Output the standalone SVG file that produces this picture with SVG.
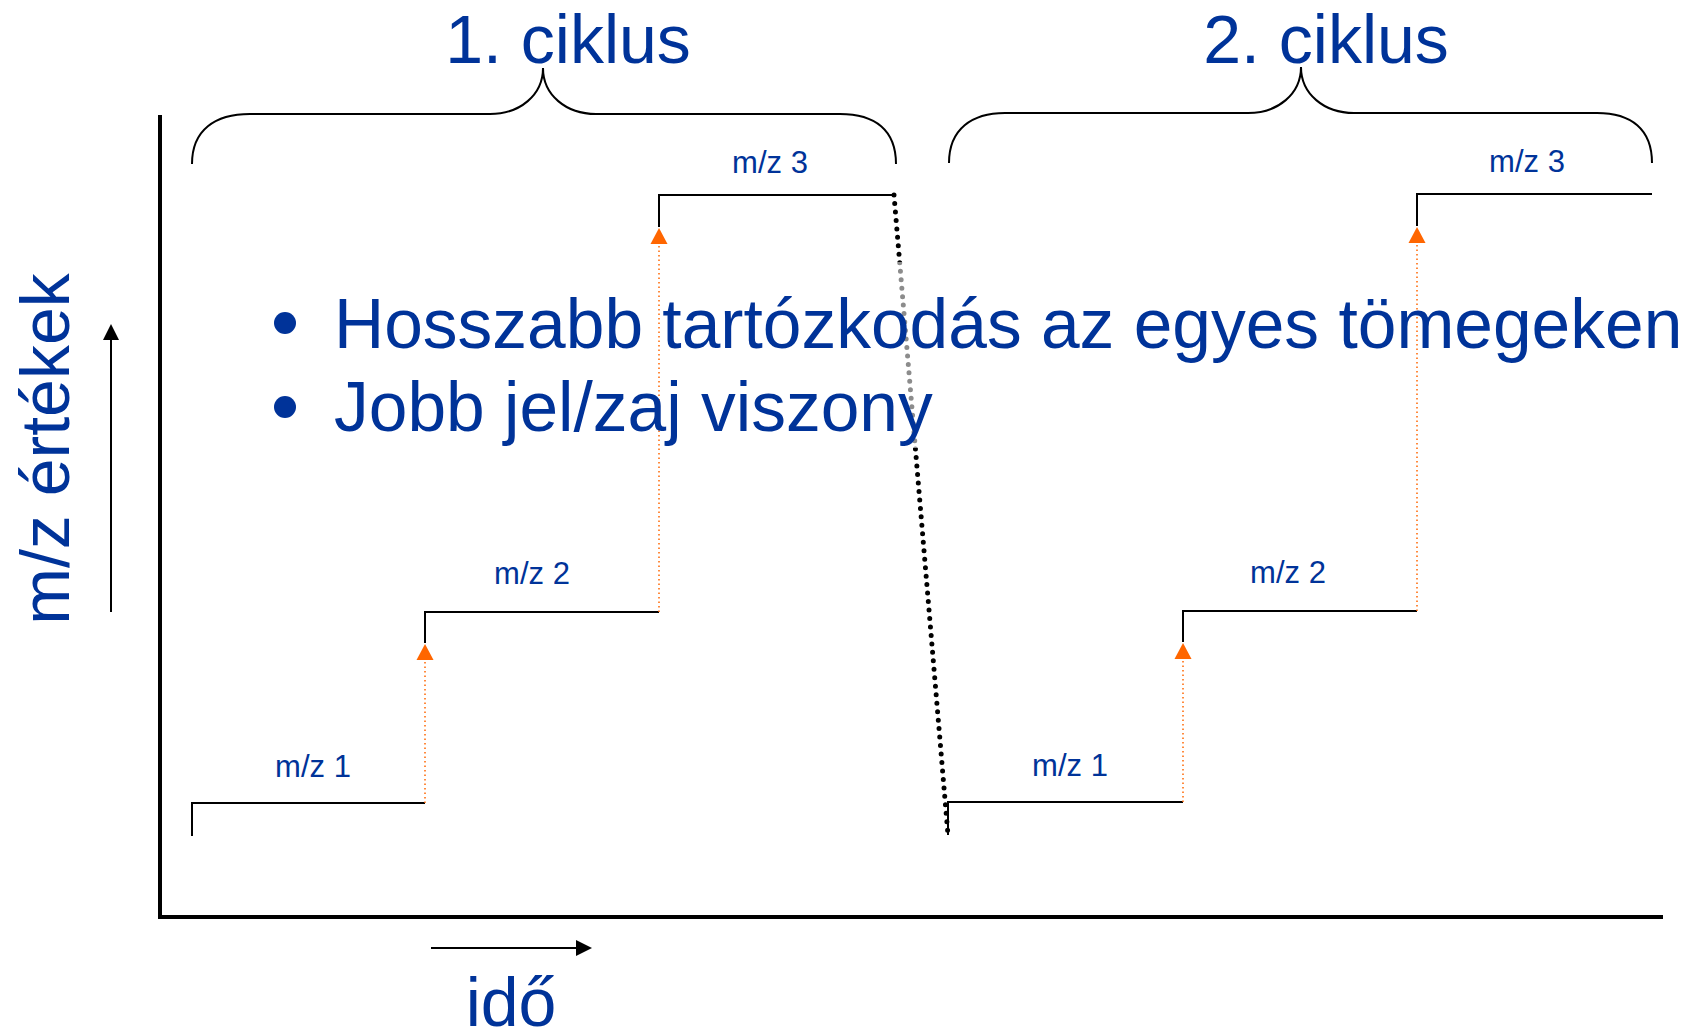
<svg xmlns="http://www.w3.org/2000/svg" width="1693" height="1035" viewBox="0 0 1693 1035">
<style>
.big{font-family:"Liberation Sans",Arial,sans-serif;font-size:68px;fill:#003399}
.bul{font-family:"Liberation Sans",Arial,sans-serif;font-size:69.5px;fill:#003399}
.lbl{font-family:"Liberation Sans",Arial,sans-serif;font-size:31px;fill:#003399;text-anchor:middle}
.axis{stroke:#000;stroke-width:4;fill:none}
.step{stroke:#000;stroke-width:2;fill:none}
.brace{stroke:#000;stroke-width:2;fill:none}
.orange{stroke:#FF6600;stroke-width:1.5;stroke-dasharray:1.5 3;fill:none}
.thin{stroke:#000;stroke-width:2;fill:none}
.dots{stroke:#000;stroke-width:5;stroke-linecap:round;stroke-dasharray:0 8.5;fill:none}
</style>
<defs>
<marker id="tri" markerUnits="userSpaceOnUse" markerWidth="16" markerHeight="18" refX="0" refY="8.5" orient="auto" viewBox="0 0 16 17">
<path d="M0,0 L16,8.5 L0,17 z" fill="#FF6600"/>
</marker>
<marker id="blk" markerUnits="userSpaceOnUse" markerWidth="16" markerHeight="16" refX="0" refY="8" orient="auto" viewBox="0 0 16 16">
<path d="M0,0 L16,8 L0,16 z" fill="#000"/>
</marker>
</defs>
<rect width="1693" height="1035" fill="#fff"/>

<g id="axes">
<path class="axis" d="M160,115 L160,917 L1663,917"/>
</g>

<g id="title1"><text class="big" x="568" y="63" text-anchor="middle">1. ciklus</text></g>
<g id="title2"><text class="big" x="1326" y="63" text-anchor="middle">2. ciklus</text></g>

<g id="brace1"><path class="brace" d="M192,164 C192,130 215,114 250,114 L490,114 C520,114 543,95 543,68 C543,95 566,114 596,114 L840,114 C875,114 896,130 896,164"/></g>
<g id="brace2"><path class="brace" d="M949,163 C949,129 972,113 1005,113 L1248,113 C1278,113 1301,94 1301,67 C1301,94 1324,113 1354,113 L1597,113 C1631,113 1652,129 1652,163"/></g>

<g id="ylabel"><text class="big" transform="translate(69,449) rotate(-90)" text-anchor="middle" font-size="69">m/z értékek</text></g>
<g id="xlabel"><text class="big" x="511" y="1026" text-anchor="middle">idő</text></g>

<g id="cycle1">
<path class="step" d="M192,836 L192,803 L425,803"/>
<path class="step" d="M425,643 L425,612 L659,612"/>
<path class="step" d="M659,227 L659,195 L894,195"/>
<text class="lbl" x="313" y="777">m/z 1</text>
<text class="lbl" x="532" y="584">m/z 2</text>
<text class="lbl" x="770" y="173">m/z 3</text>
</g>

<g id="cycle2">
<path class="step" d="M948,835 L948,802 L1183,802"/>
<path class="step" d="M1183,642 L1183,611 L1417,611"/>
<path class="step" d="M1417,226 L1417,194 L1652,194"/>
<text class="lbl" x="1070" y="776">m/z 1</text>
<text class="lbl" x="1288" y="583">m/z 2</text>
<text class="lbl" x="1527" y="172">m/z 3</text>
</g>

<g id="connectors">
<line class="orange" x1="425" y1="803" x2="425" y2="660" marker-end="url(#tri)"/>
<line class="orange" x1="659" y1="612" x2="659" y2="244" marker-end="url(#tri)"/>
<line class="orange" x1="1183" y1="802" x2="1183" y2="659" marker-end="url(#tri)"/>
<line class="orange" x1="1417" y1="611" x2="1417" y2="243" marker-end="url(#tri)"/>
<line class="thin" x1="111" y1="612" x2="111" y2="340" marker-end="url(#blk)"/>
<line class="thin" x1="431" y1="948" x2="576" y2="948" marker-end="url(#blk)"/>
<line class="dots" x1="894" y1="195" x2="948" y2="835"/>
</g>

<g id="bullets">
<rect x="890" y="262" width="35" height="186" fill="#fff" fill-opacity="0.55"/>
<circle cx="285" cy="323" r="11" fill="#003399"/>
<text class="bul" x="334" y="348">Hosszabb tartózkodás az egyes tömegeken</text>
<circle cx="285" cy="407" r="11" fill="#003399"/>
<text class="bul" x="334" y="431">Jobb jel/zaj viszony</text>
</g>
</svg>
